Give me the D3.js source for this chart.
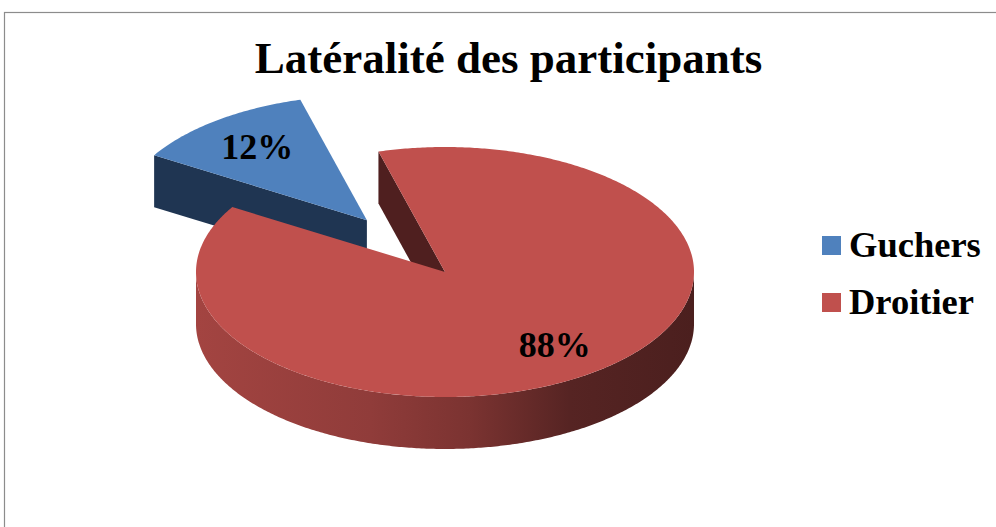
<!DOCTYPE html>
<html>
<head>
<meta charset="utf-8">
<script src="https://cdn.jsdelivr.net/npm/d3@7"></script>
<style>
  html, body { margin: 0; padding: 0; background: #fff; }
  svg { display: block; }
  text { font-family: "Liberation Serif", "Times New Roman", serif; font-weight: bold; fill: #000; }
</style>
</head>
<body>
<svg id="chart" width="996" height="527"></svg>
<script>
// ---- data ----
const title = "Latéralité des participants";
const categories = ["Guchers", "Droitier"];
const values = [12, 88];
const labels = ["12%", "88%"];
const topColors = ["#4f81bd", "#c0504d"];
const edgeColors = ["#1f3552", "#4f1f1f"];
const explode = [0.52, 0];

// ---- layout ----
const W = 996, H = 527;
const cx = 445, cy = 272, rx = 249, ry = 125, depth = 52;
const startDeg = -58.7;

const svg = d3.select("#chart");
const defs = svg.append("defs");

// frame (clipped on right/bottom like the reference)
svg.append("rect").attr("x", 4.5).attr("y", 12.5).attr("width", 1100).attr("height", 700)
  .attr("fill", "none").attr("stroke", "#8c8c8c").attr("stroke-width", 1.2);

svg.append("text").attr("x", 508.5).attr("y", 73).attr("text-anchor", "middle")
  .style("font-size", "45px").text(title);

const pie = d3.pie().sort(null)
  .startAngle(startDeg * Math.PI / 180)
  .endAngle(startDeg * Math.PI / 180 + 2 * Math.PI);
const arcs = pie(values);

const rScale = d3.scaleLinear().domain([0, 1]).range([0, rx]);
const ratio = ry / rx;

function proj(ox, oy, a, r, dz) {
  return [ox + r * Math.sin(a), oy - r * Math.cos(a) * ratio + (dz || 0)];
}

// side gradient
const gradients = topColors.map((c, i) => {
  const id = "sideGrad" + i;
  const g = defs.append("linearGradient").attr("id", id)
    .attr("gradientUnits", "userSpaceOnUse")
    .attr("x1", cx - rx).attr("x2", cx + rx).attr("y1", 0).attr("y2", 0);
  const base = d3.color(c);
  const stops = [[0, 0.85], [0.35, 0.75], [0.55, 0.64], [0.75, 0.45], [1, 0.39]];
  stops.forEach(([o, k]) => {
    const col = d3.rgb(base.r * k, base.g * k, base.b * k);
    g.append("stop").attr("offset", o).attr("stop-color", col.formatHex());
  });
  return "url(#" + id + ")";
});

function arcPoints(ox, oy, a0, a1, dz) {
  const n = Math.max(2, Math.ceil(Math.abs(a1 - a0) / 0.01));
  const pts = [];
  for (let k = 0; k <= n; k++) {
    const a = a0 + (a1 - a0) * k / n;
    pts.push(proj(ox, oy, a, rx, dz));
  }
  return pts;
}

const line = d3.line();

arcs.forEach((d, i) => {
  const mid = (d.startAngle + d.endAngle) / 2;
  const off = rScale(explode[i]);
  const ox = cx + off * Math.sin(mid);
  const oy = cy - off * Math.cos(mid) * ratio;
  const g = svg.append("g");

  // outer side (visible front half: angles in [pi/2, 3pi/2] modulo 2pi)
  for (let k = -1; k <= 1; k++) {
    const lo = Math.PI / 2 + k * 2 * Math.PI, hi = 3 * Math.PI / 2 + k * 2 * Math.PI;
    const s = Math.max(d.startAngle, lo), e = Math.min(d.endAngle, hi);
    if (e > s) {
      const topPts = arcPoints(ox, oy, s, e, 0);
      const botPts = arcPoints(ox, oy, e, s, depth);
      g.append("path").attr("d", line(topPts.concat(botPts)) + "Z")
        .attr("fill", gradients[i]);
    }
  }

  // radial faces
  const faces = [];
  if (Math.sin(d.startAngle) < 0) faces.push(d.startAngle);
  if (Math.sin(d.endAngle) > 0) faces.push(d.endAngle);
  faces.forEach(a => {
    const p = proj(ox, oy, a, rx, 0);
    const pts = [[ox, oy], p, [p[0], p[1] + depth], [ox, oy + depth]];
    g.append("path").attr("d", line(pts) + "Z").attr("fill", edgeColors[i]);
  });

  // top
  const top = [[ox, oy]].concat(arcPoints(ox, oy, d.startAngle, d.endAngle, 0));
  g.append("path").attr("d", line(top) + "Z").attr("fill", topColors[i]);
});

// data labels
arcs.forEach((d, i) => {
  const mid = (d.startAngle + d.endAngle) / 2;
  const off = rScale(explode[i]);
  const ox = cx + off * Math.sin(mid);
  const oy = cy - off * Math.cos(mid) * ratio;
  const p = proj(ox, oy, mid, rScale(0.73), 0);
  svg.append("text").attr("x", p[0]).attr("y", p[1] + 12)
    .attr("text-anchor", "middle").style("font-size", "36px").text(labels[i]);
});

// legend
const legend = svg.append("g");
categories.forEach((c, i) => {
  const y = 236 + i * 57;
  legend.append("rect").attr("x", 822).attr("y", y).attr("width", 19).attr("height", 19)
    .attr("fill", topColors[i]);
  legend.append("text").attr("x", 849).attr("y", y + 21).style("font-size", "36.5px").text(c);
});
</script>
</body>
</html>
